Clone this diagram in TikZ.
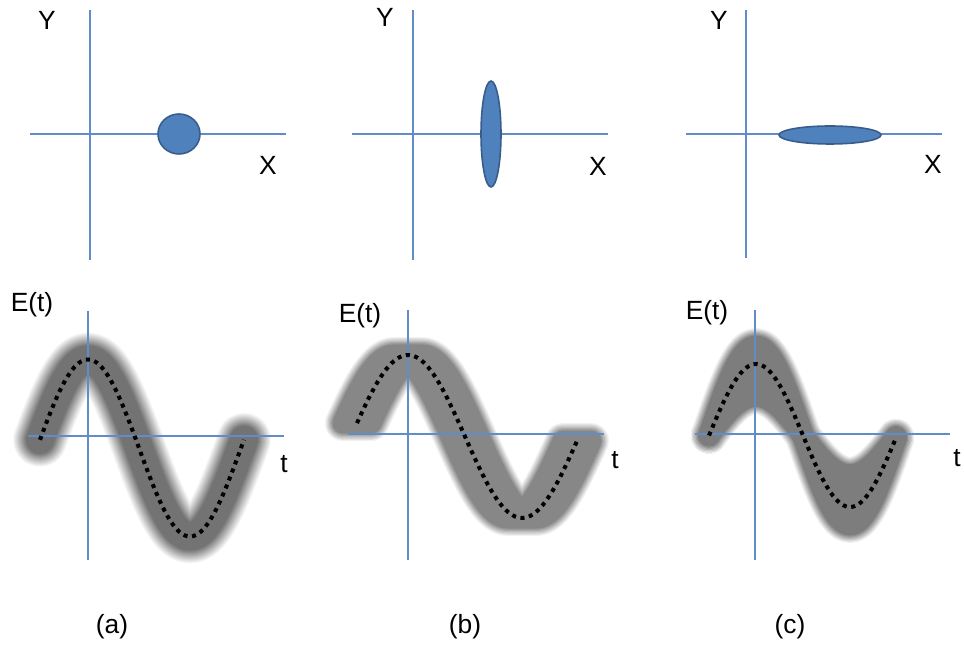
\documentclass[tikz,border=0pt]{standalone}
\usepackage{fontspec}
\setmainfont{Liberation Sans}
\usetikzlibrary{shapes.geometric}

\definecolor{axisblue}{RGB}{96,141,200}
\definecolor{spotblue}{RGB}{79,129,189}
\definecolor{spotedge}{RGB}{56,93,138}

\def\px{0.02cm}
%% one period of the field (pixel units): start, end, peak, period, zero line, amplitude
\newcommand{\wave}[6]{plot[domain=#1:#2, samples=90, smooth]
    (\x, {#5-(#6)*cos(360/#4*(\x-#3))})}

\begin{document}
\begin{tikzpicture}[
    x=0.02cm, y=-0.02cm,
    axis/.style  = {draw=axisblue, line width=0.6pt},
    spot/.style  = {ellipse, draw=spotedge, fill=spotblue,
                    line width=0.9pt, inner sep=0pt},
    lbl/.style   = {font=\fontsize{15}{17}\selectfont, inner sep=0pt},
    halo/.style  = {line width=#1*\px, line cap=round, line join=round},
    field/.style = {draw=black, line width=2.3pt,
                    dash pattern=on 2.3pt off 2.6pt},
]
\useasboundingbox (0,0) rectangle (964,648);

%% ==================================================================
%% TOP ROW: X-Y plane
%% ==================================================================

%% (a) round spot
\draw[axis] (90,10) -- (90,260);
\draw[axis] (30,134) -- (286,134);
\node[spot, minimum width=42*\px, minimum height=40*\px] (spota) at (179,134) {};
\node[lbl] (ya) at (47,20) {Y};
\node[lbl] (xa) at (268,165) {X};

%% (b) tall ellipse
\draw[axis] (413,10) -- (413,260);
\draw[axis] (352,134) -- (608,134);
\node[spot, minimum width=20*\px, minimum height=106*\px] (spotb) at (491,134) {};
\node[lbl] (yb) at (385,17) {Y};
\node[lbl] (xb) at (598,166) {X};

%% (c) wide ellipse
\draw[axis] (746,10) -- (746,258);
\draw[axis] (686,134) -- (942,134);
\node[spot, minimum width=102*\px, minimum height=18*\px] (spotc) at (830,135) {};
\node[lbl] (yc) at (719,20) {Y};
\node[lbl] (xc) at (933,164) {X};

%% ==================================================================
%% BOTTOM ROW: E(t) with spread
%% ==================================================================

%% ---- bands (soft edges: widest and palest first) ----
% (a) plain blur
\foreach \i [evaluate=\i as \w using 54-2*\i,
             evaluate=\i as \c using 3+4*\i] in {0,...,13}
    \draw[halo=\w, draw=black!\c] \wave{40}{244}{88}{204}{448}{88.5};

% (b) phase spread
\foreach \i [evaluate=\i as \w using 36-2.5*\i,
             evaluate=\i as \c using 5+7*\i] in {0,...,6}
    \foreach \s in {-14,-10,...,14}
        \draw[halo=\w, draw=black!\c, xshift=\s*\px]
            \wave{357}{577}{408}{228}{436.5}{81.5};

% (c) amplitude spread
\foreach \i [evaluate=\i as \w using 36-2.5*\i,
             evaluate=\i as \c using 6+7.5*\i] in {0,...,6}
    \foreach \k in {0.55,0.6,...,1.3}
        \draw[halo=\w, draw=black!\c]
            \wave{709}{896}{756}{188}{435.5}{71.5*\k};

%% ---- axes ----
\draw[axis] (88,311) -- (88,560);
\draw[axis] (28,436) -- (284,436);
\draw[axis] (408,310) -- (408,560);
\draw[axis] (348,434) -- (604,434);
\draw[axis] (755,310) -- (755,560);
\draw[axis] (695,434) -- (950,434);

%% ---- mean field ----
\draw[field] \wave{40}{244}{88}{204}{448}{88.5};
\draw[field] \wave{357}{577}{408}{228}{436.5}{81.5};
\draw[field] \wave{709}{896}{756}{188}{435.5}{71.5};

%% ---- labels ----
\node[lbl] (eta) at (32,305) {E(t)};
\node[lbl] (ta) at (284,464) {t};
\node[lbl] (etb) at (360,316) {E(t)};
\node[lbl] (tb) at (615,460) {t};
\node[lbl] (etc) at (707,313) {E(t)};
\node[lbl] (tc) at (957,458) {t};

\node[lbl] (capa) at (112,627) {(a)};
\node[lbl] (capb) at (465,627) {(b)};
\node[lbl] (capc) at (790,627) {(c)};

\end{tikzpicture}
\end{document}
